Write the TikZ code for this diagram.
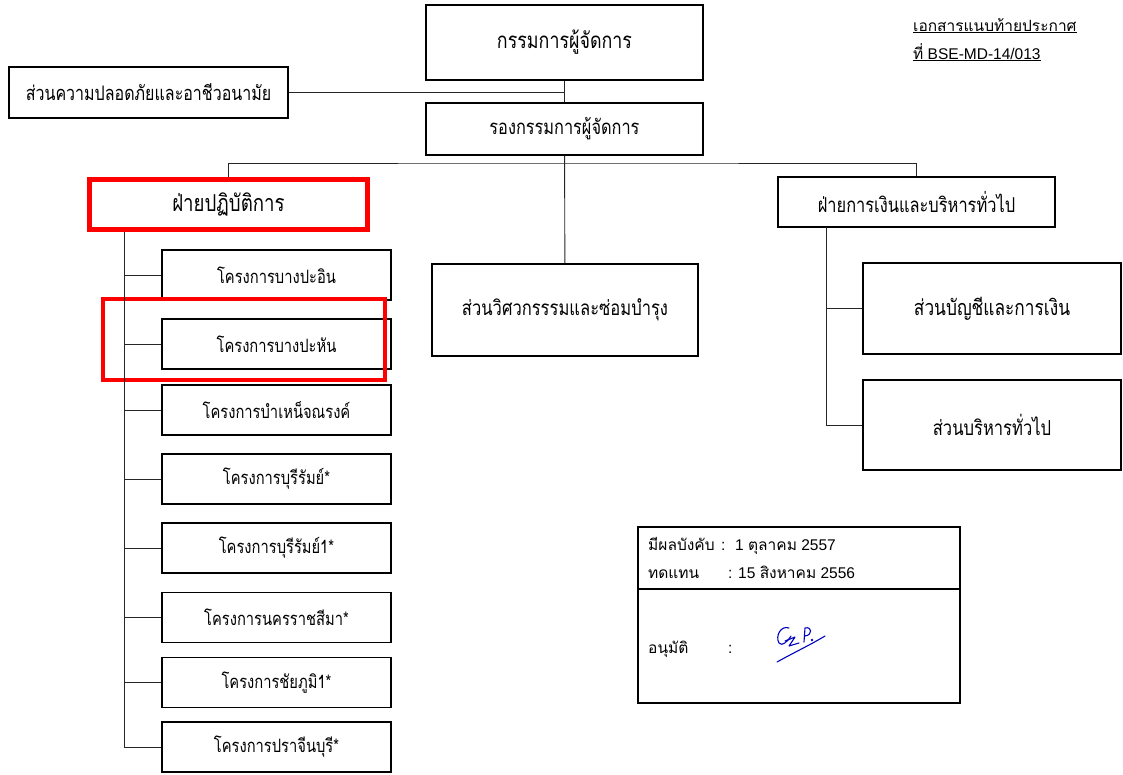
\documentclass[tikz,border=0pt]{standalone}
\usepackage{fontspec}
\setmainfont{Liberation Sans}
\newfontfamily\thaifont[Script=Thai]{Loma}
\newfontfamily\thainarrow[Script=Thai,FakeStretch=0.8]{Loma}
\usepackage{tikz}
\usetikzlibrary{positioning}
\tikzset{box/.style={rectangle,draw,line width=1.6pt,inner sep=0pt,font={\thainarrow\fontsize{20.7}{24}\selectfont}}}
\tikzset{prj/.style={box,minimum width=229pt,minimum height=50pt,font={\thainarrow\fontsize{18.4}{21}\selectfont}}}
\tikzset{hl/.style={draw=red,line width=4.5pt}}
\tikzset{wire/.style={line width=0.9pt,black!85}}
\tikzset{note/.style={anchor=base west,inner sep=0pt,font={\fontsize{15.5}{18}\selectfont}}}

\begin{document}
\begin{tikzpicture}[x=1pt,y=-1pt]
    \useasboundingbox[fill=white] (0,0) rectangle (1123,774);

    \node[box,minimum width=277pt,minimum height=75pt,font={\thainarrow\fontsize{22.3}{26}\selectfont}] (md) at (564.5,42.5) {กรรมการผู้จัดการ};
    \node[box,minimum width=279pt,minimum height=51pt,font={\thainarrow\fontsize{20}{23}\selectfont}] (saf) at (148.5,92.5) {ส่วนความปลอดภัยและอาชีวอนามัย};
    \node[box,minimum width=277pt,minimum height=52pt,font={\thainarrow\fontsize{20.4}{24}\selectfont}] (dep) at (564.5,129) {รองกรรมการผู้จัดการ};
    \node[box,hl,minimum width=278pt,minimum height=50pt,font={\thainarrow\fontsize{23.3}{27}\selectfont}] (ops) at (228.5,204.5) {ฝ่ายปฏิบัติการ};
    \node[box,minimum width=277pt,minimum height=50pt,font={\thainarrow\fontsize{20.5}{24}\selectfont}] (fin) at (916.5,202) {ฝ่ายการเงินและบริหารทั่วไป};
    \node[box,minimum width=266pt,minimum height=92pt] (eng) at (565,310) {ส่วนวิศวกรรรมและซ่อมบำรุง};
    \node[box,minimum width=258pt,minimum height=91pt,font={\thainarrow\fontsize{21.6}{25}\selectfont}] (acc) at (992,308.5) {ส่วนบัญชีและการเงิน};
    \node[box,minimum width=258pt,minimum height=90pt] (adm) at (992,425) {ส่วนบริหารทั่วไป};

    \node[prj] (p1) at (276.5,275) {โครงการบางปะอิน};
    \node[prj] (p2) at (276.5,344) {โครงการบางปะหัน};
    \node[prj] (p3) at (276.5,410) {โครงการบำเหน็จณรงค์};
    \node[prj] (p4) at (276.5,479) {โครงการบุรีรัมย์*};
    \node[prj] (p5) at (276.5,548) {โครงการบุรีรัมย์1*};
    \node[prj] (p6) at (276.5,617.5) {โครงการนครราชสีมา*};
    \node[prj] (p7) at (276.5,682.5) {โครงการชัยภูมิ1*};
    \node[prj] (p8) at (276.5,747) {โครงการปราจีนบุรี*};
    \draw [hl] (103,299) rectangle (385,380);

    \coordinate (opsspine) at (124,232);
    \coordinate (finspine) at (826,227);
    \coordinate (bus) at (564.5,163);

    \draw [wire] (md) to [] (dep);
    \draw [wire] (saf.east) to [] (saf.east -| md.south);
    \draw [wire] (dep) to [] (eng);
    \draw [wire] (ops.north) |- (bus) -| (fin.north);
    \draw [wire] (opsspine) |- (p8.west);
    \draw [wire] (p1.west) to [] (p1.west -| opsspine);
    \draw [wire] (p2.west) to [] (p2.west -| opsspine);
    \draw [wire] (p3.west) to [] (p3.west -| opsspine);
    \draw [wire] (p4.west) to [] (p4.west -| opsspine);
    \draw [wire] (p5.west) to [] (p5.west -| opsspine);
    \draw [wire] (p6.west) to [] (p6.west -| opsspine);
    \draw [wire] (p7.west) to [] (p7.west -| opsspine);
    \draw [wire] (finspine) |- (adm.west);
    \draw [wire] (acc.west) to [] (acc.west -| finspine);

    \node[note] (doc1) at (913,31) {\underline{\thaifont เอกสารแนบท้ายประกาศ}};
    \node[note] (doc2) at (913,59) {\underline{{\thaifont ที่} BSE-MD-14/013}};

    \node[box,line width=1.4pt,minimum width=322pt,minimum height=176pt] (stamp) at (799,615) {};
    \draw [line width=1.2pt] (stamp.west |- 0,589) to [] (stamp.east |- 0,589);
    \node[note] (eff) at (648,550) {\thaifont มีผลบังคับ};
    \node[note] (effc) at (721,550) {:};
    \node[note] (effv) at (735,550) {1 {\thaifont ตุลาคม} 2557};
    \node[note] (rep) at (648,578) {\thaifont ทดแทน};
    \node[note] (repc) at (728,578) {:};
    \node[note] (repv) at (738,578) {15 {\thaifont สิงหาคม} 2556};
    \node[note] (apr) at (648,653) {\thaifont อนุมัติ};
    \node[note] (aprc) at (728,653) {:};

    \draw [blue!75!black,line width=1.1pt,line cap=round,line join=round] (789,628) .. controls (781,625) and (775,636) .. (779,643) .. controls (782,647) and (788,641) .. (791,636);
    \draw [blue!75!black,line width=1.1pt,line cap=round,line join=round] (785,641) -- (795,637) -- (789,646) -- (799,643);
    \draw [blue!75!black,line width=1.1pt,line cap=round,line join=round] (804,642) -- (805,628) .. controls (812,626) and (813,635) .. (805,636);
    \fill [blue!75!black] (812,640) circle (1.3pt);
    \draw [blue!75!black,line width=1.1pt,line cap=round] (777,662) .. controls (795,652) and (810,645) .. (825,636);
\end{tikzpicture}
\end{document}
